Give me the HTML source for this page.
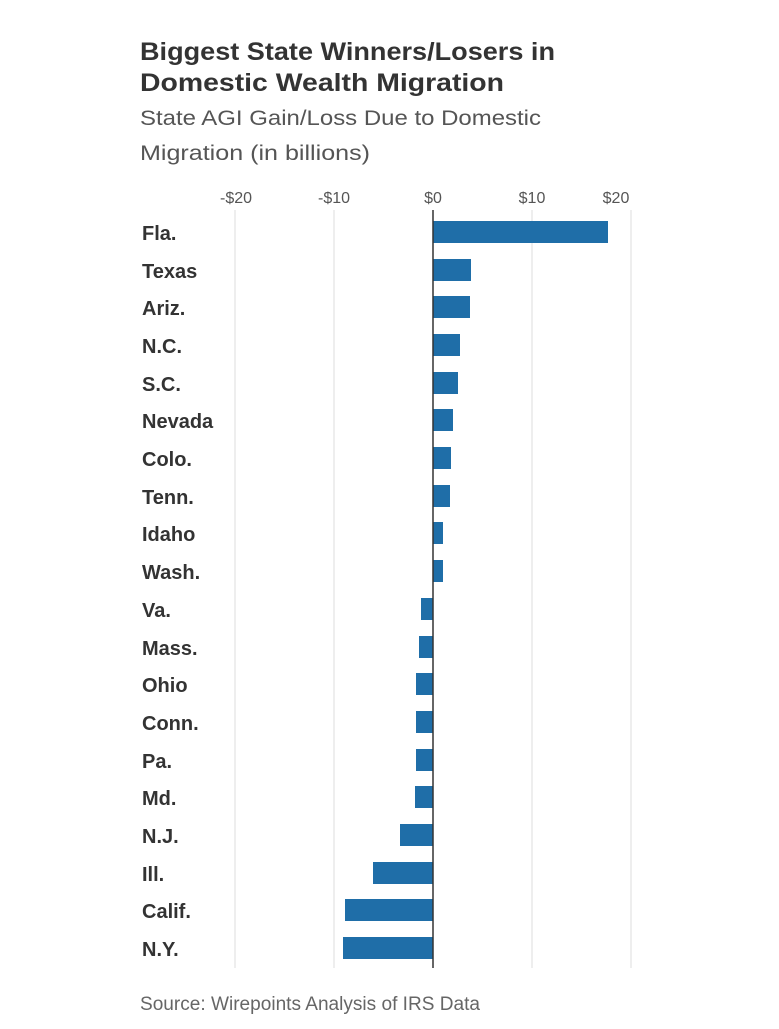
<!DOCTYPE html>
<html><head><meta charset="utf-8"><style>
body{margin:0;background:#fff;}
svg text{font-family:"Liberation Sans",sans-serif;}
</style></head><body>
<svg width="779" height="1024" viewBox="0 0 779 1024" xmlns="http://www.w3.org/2000/svg">
<rect width="779" height="1024" fill="#fff"/>
<text x="140" y="60" font-size="25" font-weight="bold" fill="#333" textLength="415" lengthAdjust="spacingAndGlyphs">Biggest State Winners/Losers in</text>
<text x="140" y="91" font-size="25" font-weight="bold" fill="#333" textLength="364" lengthAdjust="spacingAndGlyphs">Domestic Wealth Migration</text>
<text x="140" y="125" font-size="21" fill="#555" textLength="401" lengthAdjust="spacingAndGlyphs">State AGI Gain/Loss Due to Domestic</text>
<text x="140" y="160" font-size="21" fill="#555" textLength="230" lengthAdjust="spacingAndGlyphs">Migration (in billions)</text>
<g font-size="16" fill="#555" text-anchor="middle">
<text x="236" y="203">-$20</text><text x="334" y="203">-$10</text><text x="433" y="203">$0</text><text x="532" y="203">$10</text><text x="616" y="203">$20</text>
</g>
<g stroke="#ddd" stroke-width="1">
<line x1="235" y1="210" x2="235" y2="968"/><line x1="334" y1="210" x2="334" y2="968"/><line x1="532" y1="210" x2="532" y2="968"/><line x1="631" y1="210" x2="631" y2="968"/>
</g>
<g fill="#1f6ea8">
<rect x="433" y="221" width="175" height="22"/>
<rect x="433" y="259" width="38" height="22"/>
<rect x="433" y="296" width="37" height="22"/>
<rect x="433" y="334" width="27" height="22"/>
<rect x="433" y="372" width="25" height="22"/>
<rect x="433" y="409" width="20" height="22"/>
<rect x="433" y="447" width="18" height="22"/>
<rect x="433" y="485" width="17" height="22"/>
<rect x="433" y="522" width="10" height="22"/>
<rect x="433" y="560" width="10" height="22"/>
<rect x="421" y="598" width="12" height="22"/>
<rect x="419" y="636" width="14" height="22"/>
<rect x="416" y="673" width="17" height="22"/>
<rect x="416" y="711" width="17" height="22"/>
<rect x="416" y="749" width="17" height="22"/>
<rect x="415" y="786" width="18" height="22"/>
<rect x="400" y="824" width="33" height="22"/>
<rect x="373" y="862" width="60" height="22"/>
<rect x="345" y="899" width="88" height="22"/>
<rect x="343" y="937" width="90" height="22"/>
</g>
<line x1="433" y1="210" x2="433" y2="968" stroke="#333" stroke-width="1.5"/>
<g font-size="20" font-weight="bold" fill="#333">
<text x="142" y="240">Fla.</text><text x="142" y="278">Texas</text><text x="142" y="315">Ariz.</text><text x="142" y="353">N.C.</text><text x="142" y="391">S.C.</text><text x="142" y="428">Nevada</text><text x="142" y="466">Colo.</text><text x="142" y="504">Tenn.</text><text x="142" y="541">Idaho</text><text x="142" y="579">Wash.</text><text x="142" y="617">Va.</text><text x="142" y="655">Mass.</text><text x="142" y="692">Ohio</text><text x="142" y="730">Conn.</text><text x="142" y="768">Pa.</text><text x="142" y="805">Md.</text><text x="142" y="843">N.J.</text><text x="142" y="881">Ill.</text><text x="142" y="918">Calif.</text><text x="142" y="956">N.Y.</text>
</g>
<text x="140" y="1010" font-size="19" fill="#666" textLength="340" lengthAdjust="spacingAndGlyphs">Source: Wirepoints Analysis of IRS Data</text>
</svg>
</body></html>
